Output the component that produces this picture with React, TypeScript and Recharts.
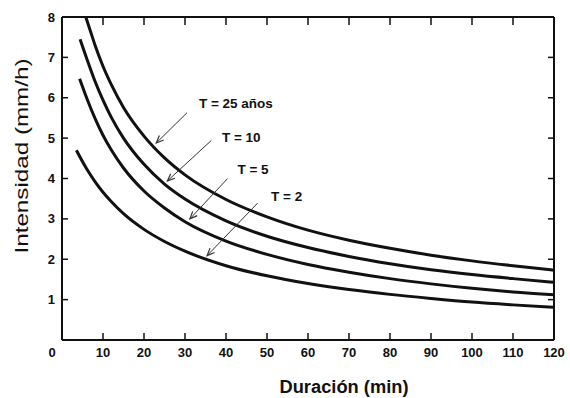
import React from 'react';
import { LineChart, Line, XAxis, YAxis, ReferenceLine, ReferenceDot } from 'recharts';

// axis ticks
const xTicks = [0, 10, 20, 30, 40, 50, 60, 70, 80, 90, 100, 110, 120];
const yTicks = [0, 1, 2, 3, 4, 5, 6, 7, 8];

// curves (duration in min, intensity in mm/h)
const durT25 = [5.8, 7, 8, 10, 12, 15, 20, 25, 30, 40, 50, 60, 70, 80, 90, 100, 110, 120];
const intT25 = [8.0, 7.63, 7.32, 6.78, 6.33, 5.76, 5.05, 4.51, 4.09, 3.48, 3.05, 2.72, 2.47, 2.27, 2.1, 1.96, 1.84, 1.73];

const durT10 = [4.4, 6, 8, 10, 12, 15, 20, 25, 30, 40, 50, 60, 70, 80, 90, 100, 110, 120];
const intT10 = [7.45, 6.98, 6.42, 5.94, 5.52, 5.0, 4.35, 3.86, 3.49, 2.95, 2.57, 2.29, 2.07, 1.89, 1.74, 1.62, 1.52, 1.43];

const durT5 = [4.3, 6, 8, 10, 12, 15, 20, 25, 30, 40, 50, 60, 70, 80, 90, 100, 110, 120];
const intT5 = [6.47, 6.0, 5.5, 5.07, 4.71, 4.26, 3.69, 3.27, 2.93, 2.45, 2.12, 1.87, 1.68, 1.52, 1.39, 1.28, 1.19, 1.12];

const durT2 = [3.5, 6, 8, 10, 12, 15, 20, 25, 30, 40, 50, 60, 70, 80, 90, 100, 110, 120];
const intT2 = [4.7, 4.24, 3.93, 3.66, 3.43, 3.13, 2.74, 2.44, 2.2, 1.84, 1.59, 1.4, 1.25, 1.13, 1.03, 0.94, 0.87, 0.81];

// return-period labels and their arrows (data coords)
const labels = ['T = 25 años', 'T = 10', 'T = 5', 'T = 2'];
const labelAt = [[33.4, 5.88], [39.0, 5.04], [42.8, 4.23], [51.0, 3.57]];
const arrowFrom = [[30.5, 5.63], [36.4, 4.94], [40.4, 4.0], [47.7, 3.39]];
const arrowTo = [[23.0, 4.88], [25.7, 3.94], [31.2, 3.0], [35.4, 2.09]];

const series = [
  { d: durT25, v: intT25 },
  { d: durT10, v: intT10 },
  { d: durT5, v: intT5 },
  { d: durT2, v: intT2 },
];

const INK = '#111';
const FONT = '"Liberation Sans", Arial, sans-serif';

const toPoints = (d: number[], v: number[]) => d.map((x, i) => ({ x, y: v[i] }));

function LeftTick({ x, y, payload }: any) {
  const v = payload.value;
  return (
    <g>
      {v > 0 && v < 8 && <line x1={x} x2={x + 6} y1={y} y2={y} stroke={INK} strokeWidth={1.5} />}
      {v > 0 && (
        <text x={x - 7} y={y} dy={4.5} textAnchor="end" fontSize={13} fontWeight="bold" fill={INK} fontFamily={FONT}>
          {v}
        </text>
      )}
    </g>
  );
}

function BottomTick({ x, y, payload }: any) {
  const v = payload.value;
  return (
    <g>
      {v > 0 && v < 120 && <line x1={x} x2={x} y1={y} y2={y - 7} stroke={INK} strokeWidth={1.5} />}
      <text x={v === 0 ? x - 10 : x} y={y + 17} textAnchor="middle" fontSize={13} fontWeight="bold" fill={INK} fontFamily={FONT}>
        {v}
      </text>
    </g>
  );
}

function TopTick({ x, y, payload }: any) {
  const v = payload.value;
  if (v <= 0 || v >= 120) return <g />;
  return <line x1={x} x2={x} y1={y} y2={y + 8} stroke={INK} strokeWidth={1.5} />;
}

function RightTick({ x, y, payload }: any) {
  const v = payload.value;
  if (v <= 0 || v >= 8) return <g />;
  return <line x1={x} x2={x - 6} y1={y} y2={y} stroke={INK} strokeWidth={1.5} />;
}

function Arrow({ x1, y1, x2, y2 }: any) {
  const a = Math.atan2(y2 - y1, x2 - x1);
  const len = 8;
  const s = 0.4;
  const hx1 = x2 - len * Math.cos(a - s);
  const hy1 = y2 - len * Math.sin(a - s);
  const hx2 = x2 - len * Math.cos(a + s);
  const hy2 = y2 - len * Math.sin(a + s);
  return (
    <g>
      <line x1={x1} y1={y1} x2={x2} y2={y2} stroke="#333" strokeWidth={1} />
      <path d={`M${hx1},${hy1} L${x2},${y2} L${hx2},${hy2}`} fill="none" stroke="#333" strokeWidth={1.2} />
    </g>
  );
}

export default function App() {
  return (
    <div style={{ position: 'absolute', left: 0, top: 0, background: '#fff' }}>
      <LineChart width={570} height={398} margin={{ top: 16, right: 15, bottom: 0, left: 0 }}>
        <XAxis
          type="number"
          dataKey="x"
          domain={[0, 120]}
          ticks={xTicks}
          interval={0}
          height={58}
          tickSize={0}
          tickMargin={0}
          tickLine={false}
          tick={<BottomTick />}
          axisLine={{ stroke: INK, strokeWidth: 2 }}
          allowDataOverflow
          label={{
            content: ({ viewBox }: any) => (
              <text x={viewBox.x + 282} y={viewBox.y + 53} textAnchor="middle" fontSize={18} fontWeight="bold" fill={INK} fontFamily={FONT} textLength={129} lengthAdjust="spacingAndGlyphs">
                Duración (min)
              </text>
            ),
          }}
        />
        <XAxis
          xAxisId="top"
          orientation="top"
          type="number"
          dataKey="x"
          domain={[0, 120]}
          ticks={xTicks}
          interval={0}
          height={1}
          tickSize={0}
          tickMargin={0}
          tickLine={false}
          tick={<TopTick />}
          axisLine={{ stroke: INK, strokeWidth: 2 }}
          allowDataOverflow
        />
        <YAxis
          type="number"
          domain={[0, 8]}
          ticks={yTicks}
          interval={0}
          width={62}
          tickSize={0}
          tickMargin={0}
          tickLine={false}
          tick={<LeftTick />}
          axisLine={{ stroke: INK, strokeWidth: 2 }}
          allowDataOverflow
          label={{
            content: () => (
              <text
                transform={`translate(28, 156) rotate(-90)`}
                textAnchor="middle"
                fontSize={18}
                fill={INK}
                fontFamily={FONT}
                textLength={195}
                lengthAdjust="spacingAndGlyphs"
              >
                Intensidad (mm/h)
              </text>
            ),
          }}
        />
        <YAxis
          yAxisId="right"
          orientation="right"
          type="number"
          domain={[0, 8]}
          ticks={yTicks}
          interval={0}
          width={1}
          tickSize={0}
          tickMargin={0}
          tickLine={false}
          tick={<RightTick />}
          axisLine={{ stroke: INK, strokeWidth: 2 }}
          allowDataOverflow
        />
        {series.map((s, i) => (
          <Line
            key={i}
            data={toPoints(s.d, s.v)}
            dataKey="y"
            type="monotone"
            dot={false}
            activeDot={false}
            stroke={INK}
            strokeWidth={3}
            isAnimationActive={false}
          />
        ))}
        {/* invisible series so the top / right frame axes get drawn */}
        <Line
          xAxisId="top"
          yAxisId="right"
          data={toPoints(durT25, intT25)}
          dataKey="y"
          stroke="none"
          dot={false}
          activeDot={false}
          isAnimationActive={false}
        />
        {labels.map((t, i) => (
          <ReferenceLine
            key={'a' + i}
            segment={[
              { x: arrowFrom[i][0], y: arrowFrom[i][1] },
              { x: arrowTo[i][0], y: arrowTo[i][1] },
            ]}
            shape={(p: any) => <Arrow {...p} />}
          />
        ))}
        {labels.map((t, i) => (
          <ReferenceDot
            key={'l' + i}
            x={labelAt[i][0]}
            y={labelAt[i][1]}
            r={0}
            shape={(p: any) => (
              <text x={p.cx} y={p.cy} dy={5} fontSize={13.5} fontWeight="bold" fill={INK} fontFamily={FONT}>
                {t}
              </text>
            )}
          />
        ))}
      </LineChart>
    </div>
  );
}
